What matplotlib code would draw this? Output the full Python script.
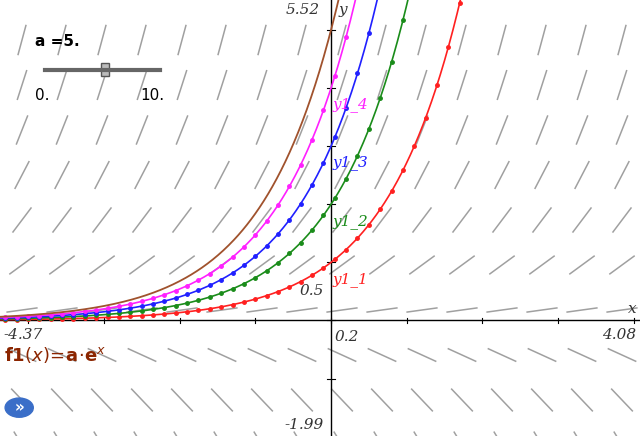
import numpy as np
import matplotlib.pyplot as plt
from matplotlib.patches import Circle

xmin, xmax = -4.37, 4.08
ymin, ymax = -1.99, 5.52
a_value = 5
coeffs = [1, 2, 3, 4]
names = ["y1_1", "y1_2", "y1_3", "y1_4"]
colors = ["#ff2020", "#1a8c1a", "#2020ff", "#ff20ff"]
label_y = [0.65, 1.65, 2.65, 3.65]

fig = plt.figure(figsize=(6.4, 4.36), dpi=100)
ax = fig.add_axes([0, 0, 1, 1])
ax.set_xlim(xmin, xmax)
ax.set_ylim(ymin, ymax)
ax.axis("off")

# pixel scales
sx = 640 / (xmax - xmin)
sy = 436 / (ymax - ymin)

# slope field for y' = y
gx = xmin + (np.arange(16) * 40 + 22) / sx
gy = ymax - (np.arange(10) * 45 + 40) / sy
half = 15
for x0 in gx:
    for y0 in gy:
        ang = np.arctan(y0 * sy / sx)
        dx = half * np.cos(ang) / sx
        dy = half * np.sin(ang) / sy
        ax.plot([x0 - dx, x0 + dx], [y0 - dy, y0 + dy], color="#a0a0a0", lw=1.1, zorder=1)

# axes
ax.axhline(0, color="black", lw=1, zorder=2)
ax.axvline(0, color="black", lw=1, zorder=2)
for t in np.arange(-4, 5):
    ax.plot([t, t], [-0.05, 0.05], color="black", lw=0.8)
for t in np.arange(-1, 6):
    ax.plot([-0.05, 0.05], [t, t], color="black", lw=0.8)

xs = np.linspace(xmin, xmax, 600)
xd = np.arange(-4.3, 4.1, 0.15)
for c, nm, col, ly in zip(coeffs, names, colors, label_y):
    ax.plot(xs, c * np.exp(xs), color=col, lw=1.2, zorder=3)
    ax.plot(xd, c * np.exp(xd), "o", color=col, ms=2.5, zorder=3)
    ax.text(0.02, ly, nm, color=col, fontsize=11, style="italic", family="DejaVu Serif", zorder=4)
ax.plot(xs, a_value * np.exp(xs), color="#a0522d", lw=1.3, zorder=3)

tk = dict(fontsize=11, family="DejaVu Serif", style="italic", color="#333333")
ax.text(-0.15, 5.35, "5.52", ha="right", va="center", **tk)
ax.text(0.1, 5.35, "y", ha="left", va="center", **tk)
ax.text(xmin + 0.05, -0.25, "-4.37", ha="left", va="center", **tk)
ax.text(xmax - 0.05, -0.25, "4.08", ha="right", va="center", **tk)
ax.text(xmax - 0.05, 0.2, "x", ha="right", va="center", **tk)
ax.text(0.05, -0.28, "0.2", ha="left", va="center", **tk)
ax.text(-0.1, 0.5, "0.5", ha="right", va="center", **tk)
ax.text(-0.1, -1.8, "-1.99", ha="right", va="center", **tk)

ax.text(xmin + 0.05, -0.6, r"$\mathbf{f1}(x)\!=\!\mathbf{a}\!\cdot\!\mathbf{e}^{x}$", color="#8b2500",
        fontsize=13, ha="left", va="center", zorder=5)

# slider
fig.text(0.055, 0.895, "a =5.", fontsize=11, fontweight="bold")
fig.add_artist(plt.Line2D([0.07, 0.25], [0.84, 0.84], color="#666666", lw=3, transform=fig.transFigure))
fig.add_artist(plt.Rectangle((0.158, 0.825), 0.013, 0.03, color="#bbbbbb", ec="#555555", transform=fig.transFigure))
fig.text(0.055, 0.77, "0.", fontsize=11)
fig.text(0.22, 0.77, "10.", fontsize=11)

fig.add_artist(Circle((0.03, 0.065), 0.022, color="#3a6ec8", transform=fig.transFigure))
fig.text(0.03, 0.065, "»", color="white", fontsize=11, ha="center", va="center", fontweight="bold")

fig.savefig("out.png", dpi=100)
